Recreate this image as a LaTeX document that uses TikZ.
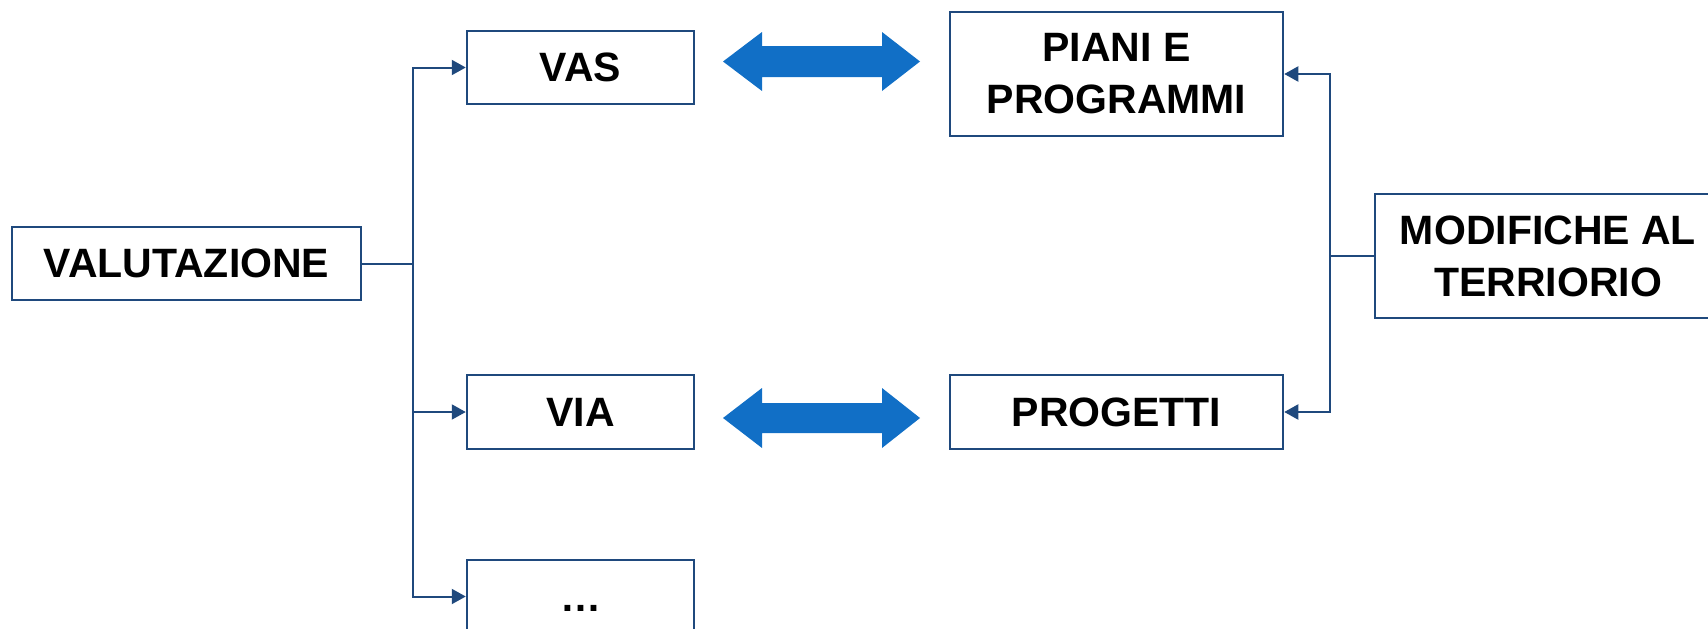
\documentclass[tikz,border=0pt]{standalone}
\usepackage{fontspec}
\setmainfont{Liberation Sans}
\usetikzlibrary{arrows.meta}
\definecolor{boxblue}{RGB}{31,73,125}
\definecolor{arrowblue}{RGB}{17,111,198}
\tikzset{
  box/.style={draw=boxblue, line width=2.5pt, fill=white, align=center, inner sep=0pt,
    font=\fontsize{41}{52}\selectfont\bfseries},
  conn/.style={draw=boxblue, line width=2pt},
  tri/.style={-{Triangle[length=14pt,width=15pt]}},
  blockarrow/.style={fill=arrowblue, draw=none}
}
\begin{document}
\begin{tikzpicture}[x=1pt,y=-1pt]
\useasboundingbox (0,0) rectangle (1708,629);
% boxes
\node[box, minimum width=349pt, minimum height=73pt] (val) at (186.5,263.5) {VALUTAZIONE};
\node[box, minimum width=227pt, minimum height=73pt] (vas) at (580.5,67.5) {VAS};
\node[box, minimum width=227pt, minimum height=74pt] (via) at (580.5,412) {VIA};
\node[box, minimum width=227pt, minimum height=73pt] (dots) at (580.5,596.5) {\smash{\raisebox{-15pt}{…}}};
\node[box, minimum width=333pt, minimum height=124pt] (piani) at (1116.5,74) {PIANI E\\PROGRAMMI};
\node[box, minimum width=333pt, minimum height=74pt] (prog) at (1116.5,412) {PROGETTI};
\node[box, minimum width=346pt, minimum height=124pt] (mod) at (1548,256) {MODIFICHE AL\\TERRIORIO};
% left tree
\coordinate (jl) at (413,263.5);
\draw[conn] (val.east) -- (jl);
\draw[conn,tri] (jl) |- (vas.west);
\draw[conn,tri] (jl) |- (via.west);
\draw[conn,tri] (jl) |- (dots.west);
% right tree
\coordinate (jr) at (1330,256);
\draw[conn] (mod.west) -- (jr);
\draw[conn,tri] (jr) |- (piani.east);
\draw[conn,tri] (jr) |- (prog.east);
% block double arrows
\fill[blockarrow] (723,61.5) -- (762,32) -- (762,46) -- (882,46) -- (882,32) -- (920,61.5)
  -- (882,91) -- (882,77) -- (762,77) -- (762,91) -- cycle;
\fill[blockarrow] (723,418) -- (762,388) -- (762,403) -- (882,403) -- (882,388) -- (920,418)
  -- (882,448) -- (882,433) -- (762,433) -- (762,448) -- cycle;
\end{tikzpicture}
\end{document}
